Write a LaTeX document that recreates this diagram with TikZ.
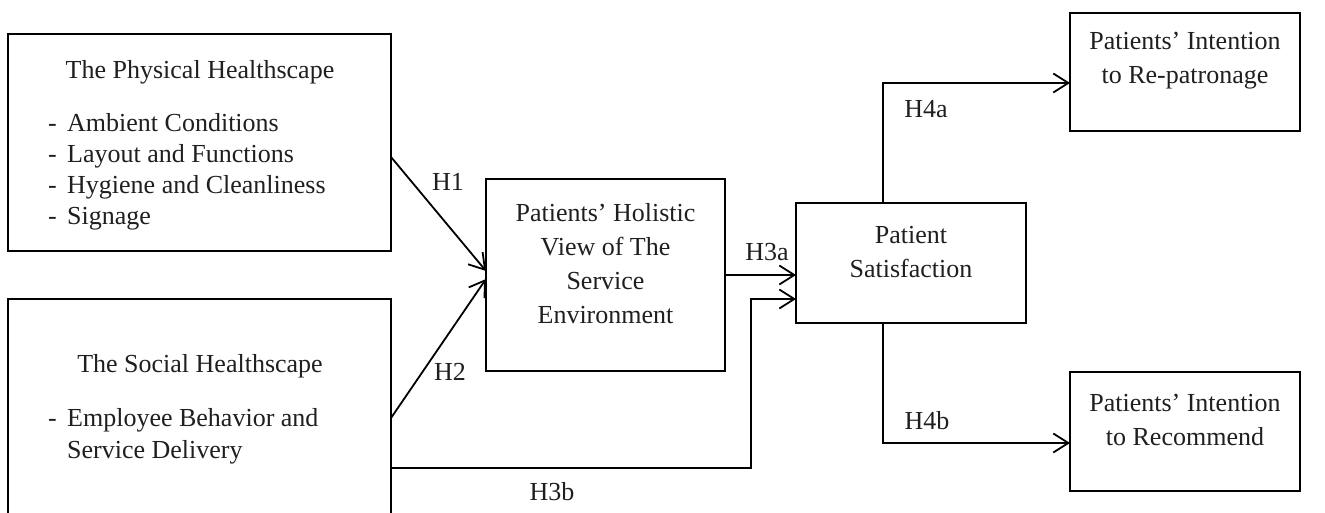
\documentclass[tikz,border=0pt]{standalone}
\usepackage{fontspec}
\setmainfont{Liberation Serif}
\usetikzlibrary{arrows.meta}
\begin{document}
\begin{tikzpicture}[x=1pt,y=-1pt,
  box/.style={draw, line width=1.8pt, inner sep=0pt, outer sep=0pt},
  txt/.style={inner sep=0pt, font=\fontsize{26}{34}\selectfont, align=center, text=black!88},
  lst/.style={inner sep=0pt, font=\fontsize{26}{31}\selectfont, align=left, text=black!88},
  lab/.style={inner sep=0pt, font=\fontsize{26}{31}\selectfont, text=black!88},
  conn/.style={line width=1.8pt, -{Straight Barb[length=15pt,width=19pt,line width=1.8pt]}}]
\useasboundingbox (0,0) rectangle (1325,513);
\clip (0,0) rectangle (1325,513);
% boxes
\node[box, minimum width=383pt, minimum height=217pt] (A) at (199.5,142.5) {};
\node[box, minimum width=383pt, minimum height=231pt] (B) at (199.5,414.5) {};
\node[box, minimum width=239pt, minimum height=192pt] (C) at (605.5,275) {};
\node[box, minimum width=230pt, minimum height=120pt] (D) at (911,263) {};
\node[box, minimum width=230pt, minimum height=118pt] (E) at (1185,72) {};
\node[box, minimum width=230pt, minimum height=119pt] (F) at (1185,431.5) {};
% texts
\node[lab] (Atitle) at (200,72) {The Physical Healthscape};
\node[lst, anchor=west] (Alist) at (48,171.5) {\makebox[19pt][l]{-}Ambient Conditions\\\makebox[19pt][l]{-}Layout and Functions\\\makebox[19pt][l]{-}Hygiene and Cleanliness\\\makebox[19pt][l]{-}Signage};
\node[lab] (Btitle) at (200,366) {The Social Healthscape};
\node[lst, font=\fontsize{26}{32}\selectfont, anchor=west] (Blist) at (48,436) {\makebox[19pt][l]{-}Employee Behavior and\\\hspace*{19pt}Service Delivery};
\node[txt] (Ctext) at (605.5,264) {Patients’ Holistic\\View of The\\Service\\Environment};
\node[txt] (Dtext) at (911,252) {Patient\\Satisfaction};
\node[txt] (Etext) at (1185,61) {Patients’ Intention\\to Re-patronage};
\node[txt] (Ftext) at (1185,420) {Patients’ Intention\\to Recommend};
% connectors
\draw[conn] ([yshift=-14.5pt]A.east) -- ([yshift=4pt]C.west);
\draw[conn] ([yshift=-3.5pt]B.east) -- ([yshift=-4pt]C.west);
\draw[conn] (C.east) -- (C.east -| D.west);
\draw[conn] ([yshift=-53.5pt]B.east) -| ([xshift=-45pt,yshift=-36pt]D.west) -- ([yshift=-36pt]D.west);
\draw[conn] ([xshift=-28pt]D.north) |- ([yshift=-11pt]E.west);
\draw[conn] ([xshift=-28pt]D.south) |- ([yshift=-11.5pt]F.west);
% labels
\node[lab] (H1) at (448,182) {H1};
\node[lab] (H2) at (450,372) {H2};
\node[lab] (H3a) at (767,252) {H3a};
\node[lab] (H3b) at (552,492) {H3b};
\node[lab] (H4a) at (926,109) {H4a};
\node[lab] (H4b) at (927,421) {H4b};
\end{tikzpicture}
\end{document}
